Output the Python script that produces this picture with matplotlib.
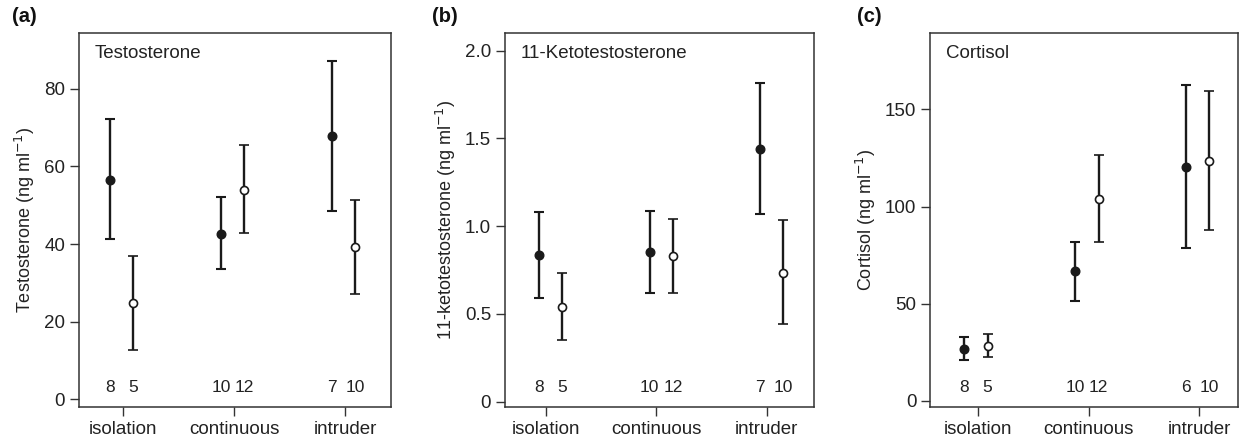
import matplotlib
matplotlib.use("Agg")
import matplotlib.pyplot as plt
import matplotlib.transforms as mtransforms
import numpy as np

plt.rcParams['font.family'] = ['Liberation Sans', 'DejaVu Sans']

groups = ["isolation", "continuous", "intruder"]

# Panel (a) Testosterone
t_fill_mean = [56.6, 42.7, 67.9]
t_fill_hi = [72.3, 52.1, 87.3]
t_fill_lo = [41.3, 33.6, 48.6]
t_open_mean = [24.8, 54.0, 39.2]
t_open_hi = [36.9, 65.5, 51.3]
t_open_lo = [12.8, 42.9, 27.2]
t_n_fill = ["8", "10", "7"]
t_n_open = ["5", "12", "10"]

# Panel (b) 11-Ketotestosterone
k_fill_mean = [0.833, 0.852, 1.440]
k_fill_hi = [1.080, 1.087, 1.816]
k_fill_lo = [0.592, 0.617, 1.070]
k_open_mean = [0.541, 0.829, 0.734]
k_open_hi = [0.731, 1.042, 1.036]
k_open_lo = [0.351, 0.622, 0.440]
k_n_fill = ["8", "10", "7"]
k_n_open = ["5", "12", "10"]

# Panel (c) Cortisol
c_fill_mean = [26.7, 66.9, 120.2]
c_fill_hi = [32.7, 81.9, 162.3]
c_fill_lo = [20.9, 51.6, 78.5]
c_open_mean = [28.3, 103.9, 123.3]
c_open_hi = [34.6, 126.3, 159.3]
c_open_lo = [22.5, 81.9, 88.0]
c_n_fill = ["8", "10", "6"]
c_n_open = ["5", "12", "10"]

W, H = 1239, 440
fig = plt.figure(figsize=(W / 100, H / 100), dpi=100)

dark = "#1a1a1a"
spine_c = "#333333"
txt_c = "#222222"

panels = [
    dict(rect=[79, 33, 312, 374], letter="(a)", lx=12, title="Testosterone",
         ylabel="Testosterone (ng ml$^{-1}$)",
         fm=t_fill_mean, fh=t_fill_hi, fl=t_fill_lo,
         om=t_open_mean, oh=t_open_hi, ol=t_open_lo,
         nf=t_n_fill, no=t_n_open,
         ylim=(-2, 94.4), yticks=[0, 20, 40, 60, 80], yticklabels=["0", "20", "40", "60", "80"],
         xlim=(-0.4, 2.41), off=(-0.12, 0.09)),
    dict(rect=[505, 33, 309.3, 374], letter="(b)", lx=432, title="11-Ketotestosterone",
         ylabel="11-ketotestosterone (ng ml$^{-1}$)",
         fm=k_fill_mean, fh=k_fill_hi, fl=k_fill_lo,
         om=k_open_mean, oh=k_open_hi, ol=k_open_lo,
         nf=k_n_fill, no=k_n_open,
         ylim=(-0.03, 2.10), yticks=[0, 0.5, 1.0, 1.5, 2.0], yticklabels=["0", "0.5", "1.0", "1.5", "2.0"],
         xlim=(-0.37, 2.43), off=(-0.06, 0.15)),
    dict(rect=[930.3, 33, 308, 374], letter="(c)", lx=857, title="Cortisol",
         ylabel="Cortisol (ng ml$^{-1}$)",
         fm=c_fill_mean, fh=c_fill_hi, fl=c_fill_lo,
         om=c_open_mean, oh=c_open_hi, ol=c_open_lo,
         nf=c_n_fill, no=c_n_open,
         ylim=(-3.1, 189.3), yticks=[0, 50, 100, 150], yticklabels=["0", "50", "100", "150"],
         xlim=(-0.427, 2.35), off=(-0.12, 0.09)),
]

x = np.arange(len(groups))

for p in panels:
    l, t, w, h = p["rect"]
    ax = fig.add_axes([l / W, (H - t - h) / H, w / W, h / H])
    xf = x + p["off"][0]
    xo = x + p["off"][1]
    fm, fh, fl = map(np.array, (p["fm"], p["fh"], p["fl"]))
    om, oh, ol = map(np.array, (p["om"], p["oh"], p["ol"]))
    ax.errorbar(xf, fm, yerr=[fm - fl, fh - fm], fmt="o", color=dark,
                mfc=dark, mec=dark, ms=6.2, elinewidth=1.7, capsize=3.8, capthick=1.5, zorder=3)
    ax.errorbar(xo, om, yerr=[om - ol, oh - om], fmt="o", color=dark,
                mfc="white", mec=dark, mew=1.2, ms=5.8, elinewidth=1.7, capsize=3.8, capthick=1.5, zorder=3)
    trans = mtransforms.blended_transform_factory(ax.transData, ax.transAxes)
    for xi, s in zip(xf, p["nf"]):
        ax.text(xi, 0.053, s, transform=trans, ha="center", va="center", fontsize=12.5, color=txt_c)
    for xi, s in zip(xo, p["no"]):
        ax.text(xi, 0.053, s, transform=trans, ha="center", va="center", fontsize=12.5, color=txt_c)
    ax.text(0.05, 0.944, p["title"], transform=ax.transAxes, ha="left", va="center",
            fontsize=13.5, color=txt_c)
    ax.set_xlim(*p["xlim"])
    ax.set_ylim(*p["ylim"])
    ax.set_xticks(x)
    ax.set_xticklabels(groups)
    ax.set_yticks(p["yticks"])
    ax.set_yticklabels(p["yticklabels"])
    ax.set_ylabel(p["ylabel"], fontsize=13, color=txt_c, labelpad=5)
    ax.tick_params(axis="both", direction="out", length=6.5, width=1.0, color=spine_c,
                   labelsize=13.5, labelcolor=txt_c, pad=3.5)
    for sp in ax.spines.values():
        sp.set_color(spine_c)
        sp.set_linewidth(1.1)
    fig.text(p["lx"] / W, 1 - 16 / H, p["letter"], fontsize=14.5, fontweight="bold",
             ha="left", va="center", color="#111111")

fig.savefig("out.png", dpi=100)
